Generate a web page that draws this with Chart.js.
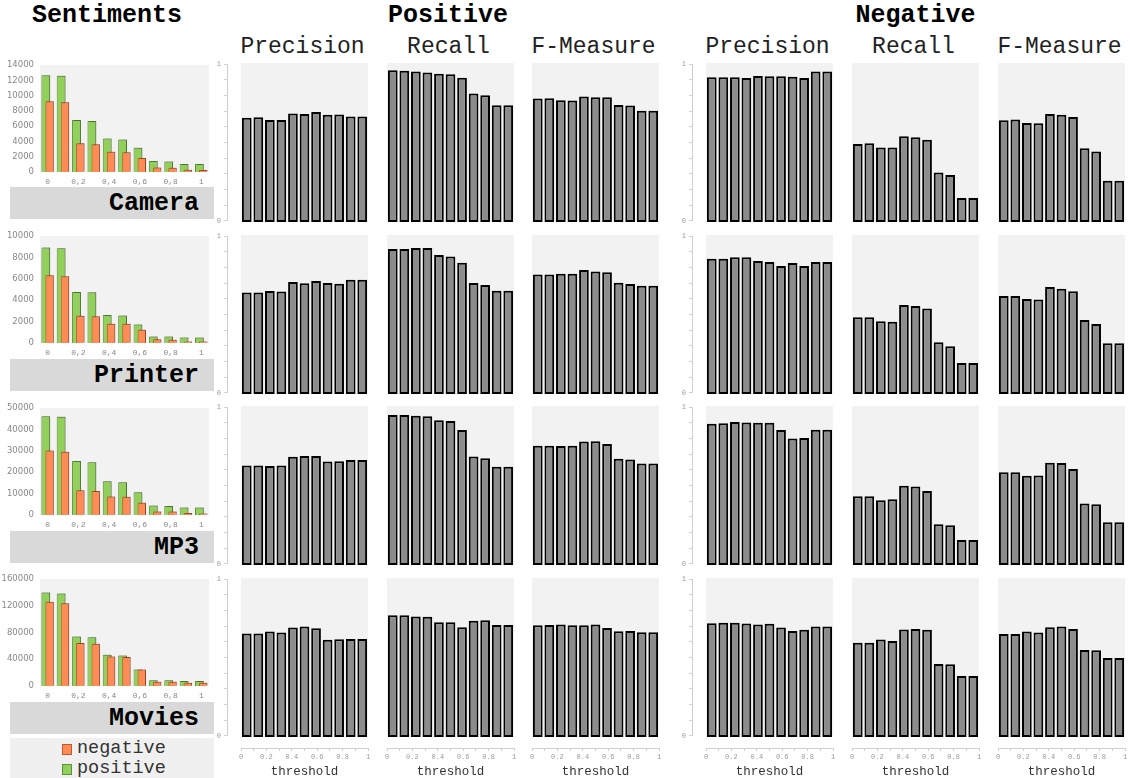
<!DOCTYPE html>
<html>
<head>
<meta charset="utf-8">
<script src="https://cdn.jsdelivr.net/npm/chart.js@4.4.1/dist/chart.umd.min.js"></script>
<style>
html,body{margin:0;padding:0;background:#fff;}
#root{position:relative;width:1134px;height:778px;overflow:hidden;font-family:'Liberation Mono','Courier New',monospace;color:#000;}
#root canvas{position:absolute;display:block;}
.h{position:absolute;text-align:center;white-space:nowrap;}
.h1{font-weight:bold;font-size:25px;line-height:32px;top:0;}
.h2{font-size:23px;line-height:26px;top:34px;color:#222;}
.lbl{position:absolute;left:10px;width:189px;height:32px;background:#d9d9d9;padding-right:15px;text-align:right;font-weight:bold;font-size:25px;line-height:33px;}
#legend{position:absolute;left:10px;top:738px;width:204px;height:40px;background:#f0f0f0;}
.li{position:absolute;left:52px;height:20px;line-height:20px;font-size:18.5px;color:#333;white-space:nowrap;}
.sw{position:absolute;left:0;top:5px;width:8px;height:9px;}
.li span.t{position:absolute;left:15px;top:0;}
</style>
</head>
<body>
<div id="root"></div>
<script>
// ---------- categories / tick labels ----------
const thresholds = ['0','0.1','0.2','0.3','0.4','0.5','0.6','0.7','0.8','0.9','1'];
const sentimentTicks = ['0','0,1','0,2','0,3','0,4','0,5','0,6','0,7','0,8','0,9','1'];
const domains = ['Camera','Printer','MP3','Movies'];
const seriesNames = ['negative','positive'];
const groupNames = ['Positive','Negative'];
const metricNames = ['Precision','Recall','F-Measure'];
const sentimentMax = [14000,10000,50000,160000];
const sentimentStep = [2000,2000,10000,40000];
const unitTicks = [0,1];

// ---------- sentiment counts per threshold ----------
const cameraPositive = [12680,12600,6810,6680,4380,4260,3190,1450,1360,1060,1060];
const cameraNegative = [9280,9150,3750,3620,2640,2600,1830,600,550,300,260];
const printerPositive = [8930,8870,4770,4740,2630,2570,1740,610,610,520,520];
const printerNegative = [6330,6240,2540,2510,1800,1800,1250,340,310,150,150];
const mp3Positive = [46200,45900,25300,24700,15760,15300,10600,4390,4240,3490,3490];
const mp3Negative = [30150,29550,11520,11210,8640,8490,5760,1670,1670,910,760];
const moviesPositive = [140060,138600,73920,72950,46690,45710,24800,8750,8750,7300,7300];
const moviesNegative = [125960,124010,64200,63220,44260,43280,24800,6320,6320,4860,4860];

// ---------- metrics: Camera ----------
const cameraPosPrecision = [0.655,0.659,0.642,0.642,0.682,0.680,0.692,0.674,0.676,0.663,0.663];
const cameraPosRecall    = [0.954,0.952,0.946,0.941,0.933,0.929,0.908,0.808,0.797,0.734,0.734];
const cameraPosF         = [0.776,0.778,0.766,0.764,0.789,0.785,0.785,0.736,0.732,0.699,0.699];
const cameraNegPrecision = [0.910,0.910,0.910,0.906,0.918,0.916,0.916,0.914,0.906,0.946,0.946];
const cameraNegRecall    = [0.490,0.496,0.469,0.469,0.540,0.533,0.517,0.312,0.295,0.151,0.151];
const cameraNegF         = [0.640,0.644,0.623,0.621,0.680,0.674,0.661,0.464,0.444,0.259,0.259];
// ---------- metrics: Printer ----------
const printerPosPrecision = [0.639,0.639,0.648,0.644,0.705,0.696,0.711,0.698,0.694,0.719,0.719];
const printerPosRecall    = [0.912,0.912,0.918,0.918,0.874,0.864,0.826,0.698,0.686,0.650,0.650];
const printerPosF         = [0.751,0.751,0.757,0.757,0.780,0.771,0.765,0.700,0.692,0.681,0.681];
const printerNegPrecision = [0.851,0.851,0.860,0.860,0.836,0.830,0.805,0.824,0.805,0.830,0.830];
const printerNegRecall    = [0.482,0.482,0.457,0.455,0.560,0.553,0.537,0.325,0.300,0.195,0.195];
const printerNegF         = [0.616,0.616,0.597,0.595,0.673,0.662,0.646,0.465,0.440,0.319,0.319];
// ---------- metrics: MP3 ----------
const mp3PosPrecision = [0.626,0.626,0.622,0.626,0.681,0.685,0.685,0.651,0.653,0.660,0.660];
const mp3PosRecall    = [0.943,0.943,0.939,0.935,0.910,0.905,0.849,0.683,0.672,0.618,0.618];
const mp3PosF         = [0.750,0.750,0.748,0.750,0.777,0.779,0.761,0.668,0.664,0.639,0.639];
const mp3NegPrecision = [0.889,0.891,0.899,0.897,0.895,0.895,0.849,0.796,0.798,0.851,0.851];
const mp3NegRecall    = [0.433,0.433,0.408,0.414,0.498,0.494,0.466,0.256,0.250,0.158,0.158];
const mp3NegF         = [0.584,0.584,0.561,0.563,0.643,0.641,0.603,0.387,0.382,0.269,0.269];
// ---------- metrics: Movies ----------
const moviesPosPrecision = [0.651,0.651,0.663,0.657,0.688,0.695,0.684,0.611,0.615,0.617,0.617];
const moviesPosRecall    = [0.766,0.766,0.758,0.756,0.722,0.722,0.691,0.731,0.735,0.705,0.705];
const moviesPosF         = [0.703,0.705,0.707,0.703,0.703,0.707,0.686,0.665,0.667,0.659,0.659];
const moviesNegPrecision = [0.716,0.718,0.718,0.714,0.707,0.712,0.688,0.667,0.674,0.695,0.695];
const moviesNegRecall    = [0.592,0.592,0.613,0.604,0.676,0.680,0.674,0.459,0.457,0.383,0.383];
const moviesNegF         = [0.648,0.648,0.663,0.657,0.691,0.695,0.680,0.547,0.545,0.497,0.497];

// ---------- assemble ----------
const sentimentRows = [
  [cameraNegative, cameraPositive],
  [printerNegative, printerPositive],
  [mp3Negative, mp3Positive],
  [moviesNegative, moviesPositive]
];
const metricRows = [
  [cameraPosPrecision, cameraPosRecall, cameraPosF, cameraNegPrecision, cameraNegRecall, cameraNegF],
  [printerPosPrecision, printerPosRecall, printerPosF, printerNegPrecision, printerNegRecall, printerNegF],
  [mp3PosPrecision, mp3PosRecall, mp3PosF, mp3NegPrecision, mp3NegRecall, mp3NegF],
  [moviesPosPrecision, moviesPosRecall, moviesPosF, moviesNegPrecision, moviesNegRecall, moviesNegF]
];

// ---------- layout & style ----------
const PANEL_LEFT = [241,387,532,706,852,998];
const PANEL_W = 127;
const ROW_TOP = [63,235,406,578];
const PANEL_H = 159;
const SENT_TOP = [62,233,405,576];
const SENT_H = 110;
const LABEL_TOP = [187,359,531,702];
const COLORS = {
  negFill:'#ff8b55', negBorder:'#c2582c',
  posFill:'#92d05c', posBorder:'#5e9236',
  bar:'#8c8c8c', panel:'#f2f2f2'
};

const root = document.getElementById('root');
function addCanvas(left, top, w, h){
  const c = document.createElement('canvas');
  c.width = w; c.height = h;
  c.style.left = left + 'px'; c.style.top = top + 'px';
  c.style.width = w + 'px'; c.style.height = h + 'px';
  root.appendChild(c);
  return c.getContext('2d');
}
function addDiv(cls, text, style){
  const d = document.createElement('div');
  d.className = cls; d.textContent = text;
  Object.assign(d.style, style);
  root.appendChild(d);
  return d;
}

Chart.defaults.animation = false;
Chart.defaults.responsive = false;
Chart.defaults.plugins.legend.display = false;
Chart.defaults.plugins.tooltip.enabled = false;
Chart.defaults.font.family = "'Liberation Mono', monospace";

const panelBg = {
  id:'panelBg',
  beforeDraw(chart, args, opts){
    if(!opts || !opts.color) return;
    const a = chart.chartArea, c = chart.ctx;
    c.save(); c.fillStyle = opts.color;
    c.fillRect(a.left, a.top, a.right - a.left, a.bottom - a.top);
    c.restore();
  }
};
// draw the second dataset (negative) in front of the first one, with a faint shadow
const frontSecond = {
  id:'frontSecond',
  beforeDatasetsDraw(chart){
    const c = chart.ctx; c.save();
    c.shadowColor = 'rgba(0,0,0,0.22)'; c.shadowOffsetX = 1; c.shadowOffsetY = -1; c.shadowBlur = 0;
  },
  beforeDatasetDraw(chart, args){ if(args.index === 1) return false; },
  afterDatasetsDraw(chart){
    chart.getDatasetMeta(1).controller.draw();
    chart.ctx.restore();
  }
};

// ---------- headers ----------
addDiv('h h1', 'Sentiments', {left:'0px', width:'214px'});
addDiv('h h1', groupNames[0], {left:'239px', width:'418px'});
addDiv('h h1', groupNames[1], {left:'706px', width:'419px'});
PANEL_LEFT.forEach((x, i) => {
  addDiv('h h2', metricNames[i % 3], {left:(x - 22) + 'px', width:(PANEL_W + 40) + 'px'});
});

// ---------- sentiment charts ----------
domains.forEach((name, r) => {
  const top = SENT_TOP[r] - 8;
  const ctx = addCanvas(0, top, 209, 8 + SENT_H + 20);
  const [neg, pos] = sentimentRows[r];
  new Chart(ctx, {
    type:'bar',
    data:{
      labels: sentimentTicks,
      datasets:[
        {label:seriesNames[1], data:pos, backgroundColor:COLORS.posFill, borderColor:COLORS.posBorder, borderWidth:1, borderSkipped:'start', categoryPercentage:0.5, barPercentage:2.3},
        {label:seriesNames[0], data:neg, backgroundColor:COLORS.negFill, borderColor:COLORS.negBorder, borderWidth:1, borderSkipped:'start', categoryPercentage:0.5, barPercentage:2.2}
      ]
    },
    options:{
      layout:{padding:{top:8, left:0, right:0, bottom:0}},
      plugins:{panelBg:{color:COLORS.panel}},
      scales:{
        x:{
          afterFit(s){ s.height = 20; },
          grid:{display:false, drawTicks:false, tickLength:0}, border:{display:false},
          ticks:{autoSkip:false, maxRotation:0, padding:5, color:'#888',
            font:{family:"'Liberation Mono', monospace", size:8},
            callback(v, i){ return i % 2 === 0 ? this.getLabelForValue(v) : ''; }}
        },
        y:{
          min:0, max:sentimentMax[r],
          afterFit(s){ s.width = 40; },
          grid:{display:false, drawTicks:false, tickLength:0}, border:{display:false},
          ticks:{stepSize:sentimentStep[r], padding:6, color:'#888',
            font:{family:"'DejaVu Sans', sans-serif", size:8.5},
            callback(v){ return String(v); }}
        }
      }
    },
    plugins:[panelBg, frontSecond]
  });
  addDiv('lbl', name, {top:LABEL_TOP[r] + 'px'});
});

// ---------- metric panels ----------
metricRows.forEach((row, r) => {
  row.forEach((vals, k) => {
    const ctx = addCanvas(PANEL_LEFT[k], ROW_TOP[r], PANEL_W, PANEL_H);
    new Chart(ctx, {
      type:'bar',
      data:{labels: thresholds, datasets:[{
        data: vals, backgroundColor:COLORS.bar, borderColor:'#000', borderWidth:2,
        borderSkipped:false, categoryPercentage:1, barPercentage:0.84
      }]},
      options:{
        layout:{padding:0},
        plugins:{panelBg:{color:COLORS.panel}},
        scales:{ x:{display:false}, y:{display:false, min:0, max:1} }
      },
      plugins:[panelBg]
    });
  });
  // y axes (0..1) for the Positive and Negative groups
  [PANEL_LEFT[0], PANEL_LEFT[3]].forEach(px => {
    const ctx = addCanvas(px - 42, ROW_TOP[r] - 6, 32, PANEL_H + 12);
    new Chart(ctx, {
      type:'bar',
      data:{labels:[], datasets:[]},
      options:{
        layout:{padding:{top:6, bottom:6, left:0, right:0}},
        scales:{
          x:{display:false},
          y:{min:0, max:1,
            afterFit(s){ s.width = 28; },
            grid:{drawOnChartArea:false, tickLength:3, color:'#d2d2d2'},
            border:{color:'#cfcfcf'},
            ticks:{stepSize:0.1, autoSkip:false, padding:3, color:'#999',
              font:{family:"'Liberation Mono', monospace", size:7},
              callback(v){ return unitTicks.includes(v) ? String(v) : ''; }}
          }
        }
      }
    });
  });
});

// ---------- threshold x axes ----------
PANEL_LEFT.forEach(px => {
  const ctx = addCanvas(px - 8, 740, PANEL_W + 16, 38);
  new Chart(ctx, {
    type:'scatter',
    data:{datasets:[]},
    options:{
      layout:{padding:{left:8, right:8, top:0, bottom:0}},
      scales:{
        y:{display:false},
        x:{type:'linear', min:0, max:1,
          afterFit(s){ s.height = 30; },
          grid:{drawOnChartArea:false, tickLength:3, color:'#cfcfcf'},
          border:{color:'#cfcfcf'},
          ticks:{stepSize:0.1, autoSkip:false, maxRotation:0, padding:2, color:'#999',
            font:{family:"'Liberation Mono', monospace", size:7},
            callback(v){ const i = Math.round(v * 10); return i % 2 === 0 ? thresholds[i] : ''; }},
          title:{display:true, text:'threshold', color:'#333', padding:{top:0, bottom:-1},
            font:{family:"'Liberation Mono', monospace", size:12.5}}
        }
      }
    }
  });
});

// ---------- legend ----------
const legend = document.createElement('div');
legend.id = 'legend';
root.appendChild(legend);
[[seriesNames[0], COLORS.negFill, COLORS.negBorder], [seriesNames[1], COLORS.posFill, COLORS.posBorder]].forEach(([name, fill, border], i) => {
  const item = document.createElement('div');
  item.className = 'li';
  item.style.top = (1 + i * 20) + 'px';
  const sw = document.createElement('span');
  sw.className = 'sw';
  sw.style.background = fill; sw.style.border = '1px solid ' + border;
  const t = document.createElement('span');
  t.className = 't'; t.textContent = name;
  item.appendChild(sw); item.appendChild(t);
  legend.appendChild(item);
});
</script>
</body>
</html>
